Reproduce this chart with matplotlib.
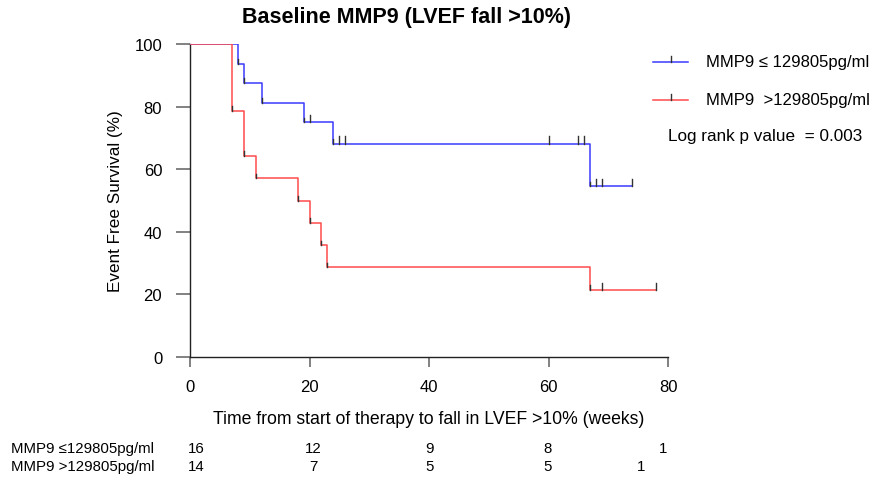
import matplotlib
matplotlib.use("Agg")
import matplotlib.pyplot as plt
from matplotlib.lines import Line2D

plt.rcParams['font.family'] = ['Liberation Sans', 'DejaVu Sans']

# Kaplan-Meier step curves (time in weeks, survival in %)
low_times = [0, 8, 9, 12, 19, 24, 67, 74]
low_surv = [100, 93.75, 87.5, 81.25, 75.0, 68.2, 54.5, 54.5]
low_censor_t = [20, 25, 26, 60, 65, 66, 68, 69, 74]

high_times = [0, 7, 9, 11, 18, 20, 22, 23, 67, 78]
high_surv = [100, 78.6, 64.3, 57.1, 50.0, 42.9, 35.7, 28.6, 21.4, 21.4]
high_censor_t = [69, 78]

# number at risk table
risk_times = [0, 20, 40, 60, 80]
risk_low = [16, 12, 9, 8, 1]
risk_high = [14, 7, 5, 5, 1]
risk_labels = ["MMP9 \u2264129805pg/ml", "MMP9 >129805pg/ml"]

legend_labels = ["MMP9 \u2264 129805pg/ml", "MMP9  >129805pg/ml"]
pvalue_text = "Log rank p value  = 0.003"

W, H = 876, 481
fig = plt.figure(figsize=(W / 100, H / 100), dpi=100)
ax = fig.add_axes([190 / W, 1 - 358 / H, (668 - 190) / W, (358 - 45) / H])

BLUE = '#3a3aff'
RED = '#ff4a4a'


def surv_at(times, surv, t):
    val = surv[0]
    for ti, si in zip(times, surv):
        if ti <= t:
            val = si
    return val


def draw_curve(times, surv, censor_t, color):
    ax.step(times, surv, where='post', color=color, lw=1.1, zorder=3)
    # short dark marks at the foot of each drop
    for i in range(1, len(times)):
        if surv[i] < surv[i - 1]:
            ax.plot([times[i], times[i]], [surv[i], surv[i] + 1.5],
                    color='#333333', lw=1, zorder=4)
    # censoring ticks
    for t in censor_t:
        s = surv_at(times, surv, t)
        ax.plot([t, t], [s, s + 2.3], color='#333333', lw=1, zorder=4)


draw_curve(low_times, low_surv, low_censor_t, BLUE)
draw_curve(high_times, high_surv, high_censor_t, RED)

ax.set_xlim(0, 80)
ax.set_ylim(0, 100)
ax.set_xticks([0, 20, 40, 60, 80])
ax.set_yticks([0, 20, 40, 60, 80, 100])
ax.spines['top'].set_visible(False)
ax.spines['right'].set_visible(False)
for sp in ('left', 'bottom'):
    ax.spines[sp].set_color('#222222')
    ax.spines[sp].set_linewidth(1)
ax.tick_params(axis='y', direction='out', length=10, width=1.3,
               color='#777777', labelsize=12, pad=10)
ax.tick_params(axis='x', direction='out', length=7, width=1.3,
               color='#777777', labelsize=12, pad=9)

ax.set_xlabel("Time from start of therapy to fall in LVEF >10% (weeks)",
              fontsize=12.7, labelpad=11)
ax.set_ylabel("Event Free Survival (%)", fontsize=12.3, labelpad=8)

fig.text(407 / W, 1 - 17 / H, "Baseline MMP9 (LVEF fall >10%)",
         ha='center', va='center', fontsize=15.5, fontweight='bold')

# legend drawn in figure coordinates
for (ly, col, lab) in [(63, BLUE, legend_labels[0]), (101, RED, legend_labels[1])]:
    fig.add_artist(Line2D([653 / W, 688 / W], [1 - ly / H, 1 - ly / H],
                          color=col, lw=1.1, transform=fig.transFigure))
    fig.add_artist(Line2D([670.5 / W, 670.5 / W], [1 - ly / H, 1 - (ly - 6) / H],
                          color='#333333', lw=1, transform=fig.transFigure))
    fig.text(706 / W, 1 - ly / H, lab, ha='left', va='center', fontsize=12)
fig.text(668 / W, 1 - 137 / H, pvalue_text, ha='left', va='center', fontsize=12.3)

# number-at-risk table under the axes
row_y = [449, 467]
row_x = {0: [196, 313, 430, 548, 663], 1: [196, 313, 430, 548, 641]}
for r, (lab, counts) in enumerate(zip(risk_labels, [risk_low, risk_high])):
    fig.text(11 / W, 1 - row_y[r] / H, lab, ha='left', va='center', fontsize=10.8)
    for x, c in zip(row_x[r], counts):
        fig.text(x / W, 1 - row_y[r] / H, str(c), ha='center', va='center', fontsize=10.8)

fig.savefig("out.png", dpi=100)
